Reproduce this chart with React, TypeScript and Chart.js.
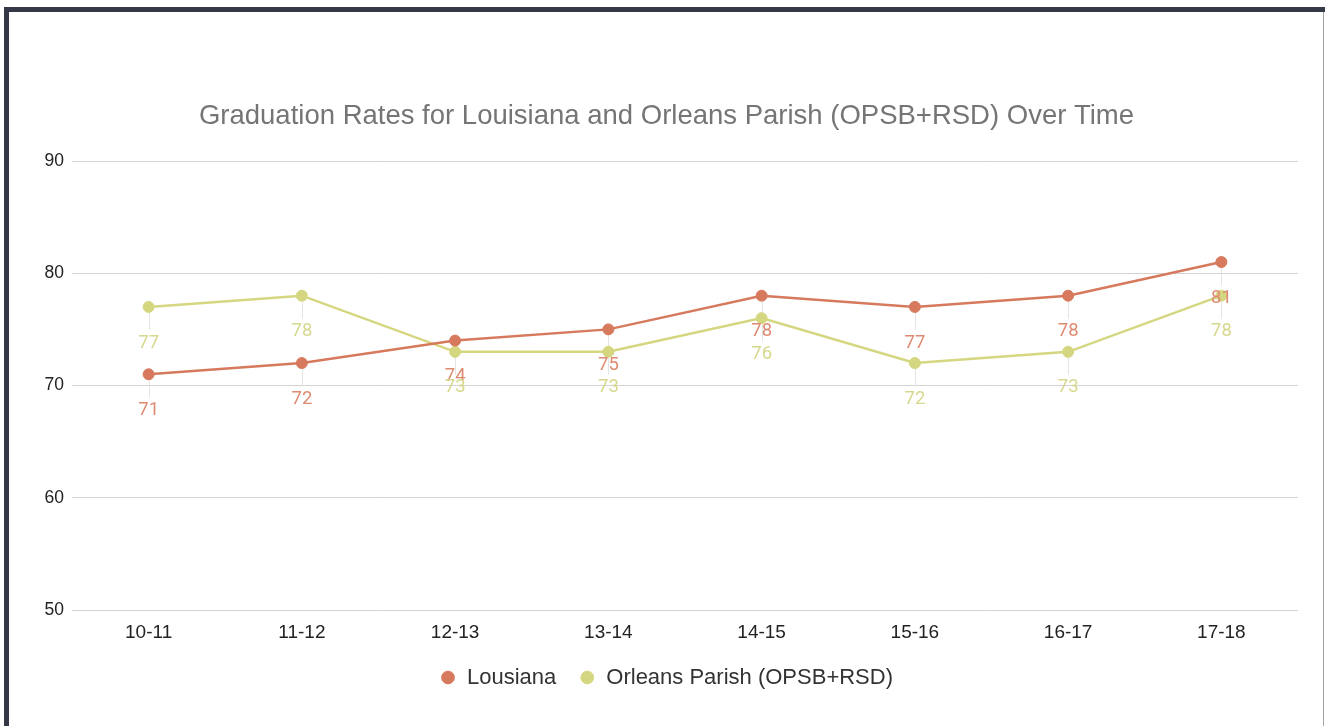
import React, { useEffect, useRef } from "react";
import { Chart, registerables } from "chart.js";

Chart.register(...registerables);

const categories = ["10-11", "11-12", "12-13", "13-14", "14-15", "15-16", "16-17", "17-18"];
const louisiana = [71, 72, 74, 75, 78, 77, 78, 81];
const orleans = [77, 78, 73, 73, 76, 72, 73, 78];
const yTicks = [50, 60, 70, 80, 90];
const seriesNames = ["Lousiana", "Orleans Parish (OPSB+RSD)"];
const titleText = "Graduation Rates for Louisiana and Orleans Parish (OPSB+RSD) Over Time";

const seriesColors = ["#d6795d", "#d5d680"];
const labelColors = ["#de8a70", "#d6d88c"];
const FONT = "'Liberation Sans', Arial, sans-serif";

const dataLabelPlugin = {
  id: "dataLabels",
  beforeDatasetsDraw(chart: any) {
    const ctx = chart.ctx;
    ctx.save();
    ctx.strokeStyle = "#e4e4e4";
    ctx.lineWidth = 1;
    chart.data.datasets.forEach((_ds: any, i: number) => {
      const meta = chart.getDatasetMeta(i);
      meta.data.forEach((pt: any) => {
        const x = Math.round(pt.x) + 0.5;
        ctx.beginPath();
        ctx.moveTo(x, pt.y + 6);
        ctx.lineTo(x, pt.y + 23);
        ctx.stroke();
      });
    });
    ctx.restore();
  },
  afterDatasetsDraw(chart: any) {
    const ctx = chart.ctx;
    ctx.save();
    ctx.font = "18.5px Roboto";
    ctx.textAlign = "center";
    ctx.textBaseline = "middle";
    chart.data.datasets.forEach((ds: any, i: number) => {
      const meta = chart.getDatasetMeta(i);
      ctx.fillStyle = labelColors[i];
      meta.data.forEach((pt: any, j: number) => {
        ctx.fillText(String(ds.data[j]), pt.x, pt.y + 36);
      });
    });
    ctx.restore();
  },
};

export default function App() {
  const ref = useRef<HTMLCanvasElement | null>(null);

  useEffect(() => {
    if (!ref.current) return;
    const chart = new Chart(ref.current, {
      type: "line",
      data: {
        labels: categories,
        datasets: [
          {
            label: seriesNames[0],
            data: louisiana,
            borderColor: seriesColors[0],
            backgroundColor: seriesColors[0],
            pointBackgroundColor: seriesColors[0],
            pointBorderColor: seriesColors[0],
            borderWidth: 2.5,
            pointRadius: 5.5,
            pointBorderWidth: 1,
            tension: 0,
          },
          {
            label: seriesNames[1],
            data: orleans,
            borderColor: seriesColors[1],
            backgroundColor: seriesColors[1],
            pointBackgroundColor: seriesColors[1],
            pointBorderColor: seriesColors[1],
            borderWidth: 2.5,
            pointRadius: 5.5,
            pointBorderWidth: 1,
            tension: 0,
          },
        ],
      },
      options: {
        responsive: false,
        animation: false,
        layout: { padding: { left: 8, right: 0, top: 0, bottom: 27.5 } },
        plugins: {
          title: {
            display: true,
            text: titleText,
            color: "#757575",
            font: { size: 27.5, weight: "normal", family: FONT },
            padding: { top: 99.5, bottom: 28.5 },
          },
          legend: {
            position: "bottom",
            labels: {
              usePointStyle: true,
              pointStyle: "circle",
              boxWidth: 16,
              boxHeight: 9,
              padding: 23,
              color: "#333333",
              font: { size: 22, family: FONT },
            },
          },
          tooltip: { enabled: false },
        },
        scales: {
          x: {
            offset: true,
            grid: { display: false, drawTicks: false, offset: true },
            border: { display: false },
            ticks: { color: "#222222", font: { size: 19, family: FONT }, padding: 11 },
            afterFit(s: any) {
              s.height = 33.5;
            },
          },
          y: {
            min: yTicks[0],
            max: yTicks[yTicks.length - 1],
            afterBuildTicks(s: any) {
              s.ticks = yTicks.map((v) => ({ value: v }));
            },
            grid: { color: "#d3d3d3", drawTicks: false, lineWidth: 1 },
            border: { display: false },
            ticks: { color: "#222222", font: { size: 17.5, family: FONT }, padding: 8 },
            afterFit(s: any) {
              s.width = 64;
            },
          },
          y2: {
            type: "linear",
            position: "right",
            display: true,
            grid: { display: false, drawTicks: false },
            border: { display: false },
            ticks: { display: false },
            afterFit(s: any) {
              s.width = 27;
            },
          },
        },
      } as any,
      plugins: [dataLabelPlugin],
    });
    return () => chart.destroy();
  }, []);

  return (
    <div style={{ position: "fixed", left: 0, top: 0, width: 1325, height: 726, background: "#ffffff" }}>
      <canvas ref={ref} width={1325} height={726} style={{ position: "absolute", left: 0, top: 0, display: "block" }} />
      <div style={{ position: "absolute", left: 4, top: 7, width: 1321, height: 5, background: "#353846" }} />
      <div style={{ position: "absolute", left: 4, top: 7, width: 5, height: 719, background: "#353846" }} />
      <div style={{ position: "absolute", left: 1323, top: 12, width: 1, height: 714, background: "#a4a4a4" }} />
    </div>
  );
}
